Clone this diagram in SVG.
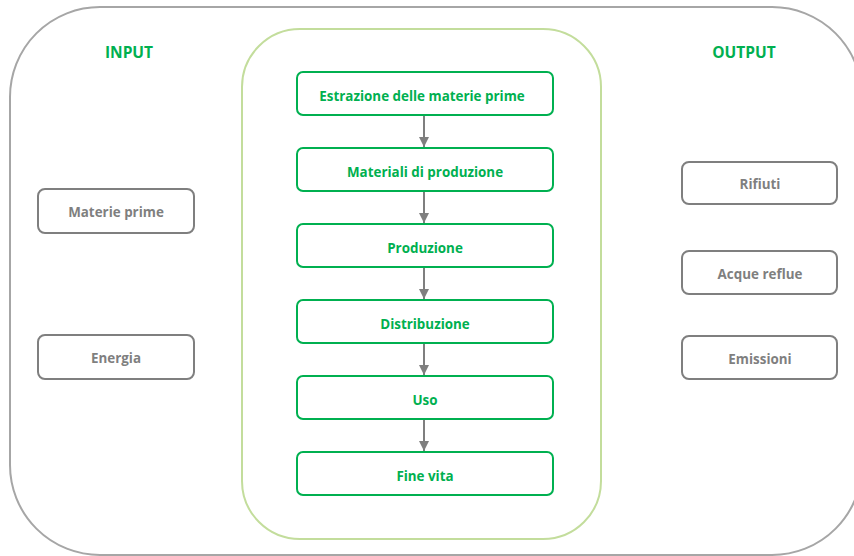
<svg xmlns="http://www.w3.org/2000/svg" width="854" height="556" viewBox="0 0 854 556">
<defs>
<style>
.outer{fill:none;stroke:#A6A6A6;stroke-width:2}
.cont{fill:none;stroke:#C3DD9C;stroke-width:2}
.gbox{fill:#fff;stroke:#00B050;stroke-width:2}
.xbox{fill:#fff;stroke:#7F7F7F;stroke-width:2}
.gt{fill:#00B050;font-family:"Open Sans","Liberation Sans",sans-serif;font-weight:bold;font-size:13.4px;text-anchor:middle}
.xt{fill:#7F7F7F;font-family:"Open Sans","Liberation Sans",sans-serif;font-weight:bold;font-size:13.4px;text-anchor:middle}
.hd{fill:#00B050;font-family:"Open Sans","Liberation Sans",sans-serif;font-weight:bold;font-size:15.5px;text-anchor:middle}
.conn{stroke:#7F7F7F;stroke-width:2;fill:none}
</style>
<marker id="ah" viewBox="0 0 10 10" refX="10" refY="5" markerWidth="5" markerHeight="5" markerUnits="strokeWidth" orient="auto">
<path d="M0,0 L10,5 L0,10 z" fill="#7F7F7F"/>
</marker>
</defs>
<rect class="outer" x="10" y="7" width="852" height="548" rx="90" ry="90"/>
<rect class="cont" x="242" y="29" width="359" height="510" rx="58" ry="58"/>
<text class="hd" x="129" y="58">INPUT</text>
<text class="hd" x="744" y="58">OUTPUT</text>
<g id="connectors">
<line class="conn" x1="424" y1="116" x2="424" y2="147" marker-end="url(#ah)"/>
<line class="conn" x1="424" y1="192" x2="424" y2="223" marker-end="url(#ah)"/>
<line class="conn" x1="424" y1="268" x2="424" y2="299" marker-end="url(#ah)"/>
<line class="conn" x1="424" y1="344" x2="424" y2="375" marker-end="url(#ah)"/>
<line class="conn" x1="424" y1="420" x2="424" y2="451" marker-end="url(#ah)"/>
</g>
<g id="estrazione"><rect class="gbox" x="297" y="72" width="256" height="43" rx="6"/><text class="gt" x="422" y="101">Estrazione delle materie prime</text></g>
<g id="materiali"><rect class="gbox" x="297" y="148" width="256" height="43" rx="6"/><text class="gt" x="425" y="177">Materiali di produzione</text></g>
<g id="produzione"><rect class="gbox" x="297" y="224" width="256" height="43" rx="6"/><text class="gt" x="425" y="253">Produzione</text></g>
<g id="distribuzione"><rect class="gbox" x="297" y="300" width="256" height="43" rx="6"/><text class="gt" x="425" y="329">Distribuzione</text></g>
<g id="uso"><rect class="gbox" x="297" y="376" width="256" height="43" rx="6"/><text class="gt" x="425" y="405">Uso</text></g>
<g id="finevita"><rect class="gbox" x="297" y="452" width="256" height="43" rx="6"/><text class="gt" x="425" y="481">Fine vita</text></g>
<g id="materieprime"><rect class="xbox" x="38" y="189" width="156" height="44" rx="7"/><text class="xt" x="116" y="217">Materie prime</text></g>
<g id="energia"><rect class="xbox" x="38" y="335" width="156" height="44" rx="7"/><text class="xt" x="116" y="363">Energia</text></g>
<g id="rifiuti"><rect class="xbox" x="682" y="162" width="155" height="42" rx="7"/><text class="xt" x="760" y="189">Rifiuti</text></g>
<g id="acque"><rect class="xbox" x="682" y="251" width="155" height="43" rx="7"/><text class="xt" x="760" y="279">Acque reflue</text></g>
<g id="emissioni"><rect class="xbox" x="682" y="336" width="155" height="43" rx="7"/><text class="xt" x="760" y="364">Emissioni</text></g>
</svg>
